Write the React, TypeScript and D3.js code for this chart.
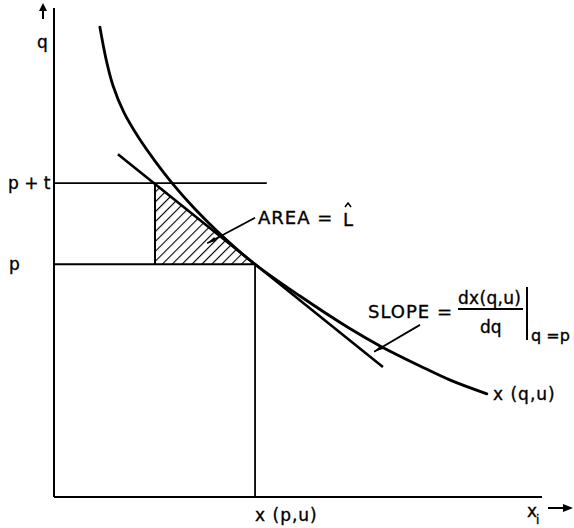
import React from 'react';
import * as d3 from 'd3';

// x(q,u) compensated demand curve (x_i, q)
const curveX = [9.4, 10.7, 12.1, 14.3, 17.4, 20.7, 24.2, 28.7, 33.4, 40.8, 50.4, 60.7, 66.8, 75.0, 81.2, 88.7];
const curveQ = [96.1, 89.4, 84.1, 78.7, 73.4, 68.7, 64.2, 59.1, 54.4, 47.9, 41.1, 34.4, 30.9, 26.8, 23.9, 21.1];

// tangent at q = p
const tangentX = [13.1, 67.4];
const tangentQ = [70.1, 26.6];

const p = 47.6;
const pPlusT = 64.2;
const xAtP = 41.2;       // x(p,u)
const xAtPT = 20.7;      // where the tangent meets p + t
const ptLineEnd = 43.6;

// leader lines [from, to] in data units
const areaLeader = [[41.2, 57.1], [31.4, 51.9]];
const slopeLeader = [[75.0, 35.2], [65.6, 29.7]];

const W = 574;
const H = 528;
const font = '"DejaVu Sans", sans-serif';

export default function App() {
  const x = d3.scaleLinear().domain([0, 100]).range([54, 542]);
  const y = d3.scaleLinear().domain([0, 100]).range([497, 8]);

  const pts = curveX.map((v, i) => [v, curveQ[i]] as [number, number]);
  const line = d3.line<[number, number]>()
    .x(d => x(d[0]))
    .y(d => y(d[1]))
    .curve(d3.curveCatmullRom.alpha(0.5));

  const tri = d3.line<[number, number]>().x(d => x(d[0])).y(d => y(d[1]));
  const triPts: [number, number][] = [[xAtPT, pPlusT], [xAtPT, p], [xAtP, p]];

  // small wedge at the end of a leader line
  const blob = (from: number[], to: number[], size: number) => {
    const x0 = x(from[0]), y0 = y(from[1]), x1 = x(to[0]), y1 = y(to[1]);
    const a = Math.atan2(y1 - y0, x1 - x0);
    const bx = x1 - Math.cos(a) * size, by = y1 - Math.sin(a) * size;
    const nx = -Math.sin(a) * 2.2, ny = Math.cos(a) * 2.2;
    return `M${x1},${y1}L${bx + nx},${by + ny}L${bx - nx},${by - ny}Z`;
  };

  const areaX = x(areaLeader[0][0]) + 3;
  const hatX = areaX + 90;

  return (
    <svg width={W} height={H} style={{ position: 'absolute', left: 0, top: 0, background: '#fff' }}>
      <defs>
        <pattern id="hatch" patternUnits="userSpaceOnUse" width="7" height="7" patternTransform="rotate(45)">
          <line x1="0" y1="0" x2="0" y2="7" stroke="#000" strokeWidth="2.2" />
        </pattern>
      </defs>

      {/* hatched triangle */}
      <path d={tri(triPts) + 'Z'} fill="url(#hatch)" stroke="none" />

      {/* axes */}
      <line x1={x(0)} y1={y(0)} x2={x(0)} y2={y(100)} stroke="#000" strokeWidth={2} />
      <line x1={x(0)} y1={y(0)} x2={x(100)} y2={y(0)} stroke="#000" strokeWidth={2} />

      {/* price lines */}
      <line x1={x(0)} y1={y(pPlusT)} x2={x(ptLineEnd)} y2={y(pPlusT)} stroke="#000" strokeWidth={1.8} />
      <line x1={x(0)} y1={y(p)} x2={x(xAtP)} y2={y(p)} stroke="#000" strokeWidth={1.8} />
      <line x1={x(xAtP)} y1={y(p)} x2={x(xAtP)} y2={y(0)} stroke="#000" strokeWidth={1.8} />
      <line x1={x(xAtPT)} y1={y(pPlusT)} x2={x(xAtPT)} y2={y(p)} stroke="#000" strokeWidth={2} />

      {/* tangent and curve */}
      <line x1={x(tangentX[0])} y1={y(tangentQ[0])} x2={x(tangentX[1])} y2={y(tangentQ[1])}
        stroke="#000" strokeWidth={2.6} />
      <path d={line(pts) || ''} fill="none" stroke="#000" strokeWidth={2.8} strokeLinecap="round" />

      {/* leaders */}
      <line x1={x(areaLeader[0][0])} y1={y(areaLeader[0][1])} x2={x(areaLeader[1][0])} y2={y(areaLeader[1][1])}
        stroke="#000" strokeWidth={1.8} />
      <path d={blob(areaLeader[0], areaLeader[1], 9)} fill="#000" />
      <line x1={x(slopeLeader[0][0])} y1={y(slopeLeader[0][1])} x2={x(slopeLeader[1][0])} y2={y(slopeLeader[1][1])}
        stroke="#000" strokeWidth={1.8} />
      <path d={blob(slopeLeader[0], slopeLeader[1], 9)} fill="#000" />

      {/* axis arrows */}
      <line x1={43} y1={19} x2={43} y2={8} stroke="#000" strokeWidth={2} />
      <path d="M43,3L39,11L47,11Z" fill="#000" />
      <line x1={548} y1={508} x2={566} y2={508} stroke="#000" strokeWidth={2} />
      <path d="M573,508L563,504L563,512Z" fill="#000" />

      {/* hat over L */}
      <path d={`M${hatX - 3},${207}L${hatX},${203}L${hatX + 3},${207}`} fill="none" stroke="#000" strokeWidth={1.5} />

      <g fontFamily={font} fill="#000" stroke="#000" strokeWidth={0.35}>
        <text x={37} y={48} fontSize={17}>q</text>
        <text x={8} y={y(pPlusT) + 6} fontSize={17}>p + t</text>
        <text x={9} y={y(p) + 6} fontSize={17}>p</text>

        <text x={areaX} y={224} fontSize={18} letterSpacing={1}>AREA =</text>
        <text x={areaX + 85} y={226} fontSize={18}>L</text>

        <text x={368} y={318} fontSize={18} letterSpacing={1}>SLOPE =</text>
        <text x={458} y={304} fontSize={17} letterSpacing={0.3}>dx(q,u)</text>
        <text x={480} y={333} fontSize={17}>dq</text>
        <text x={531} y={341} fontSize={16}>q =p</text>

        <text x={493} y={400} fontSize={17} letterSpacing={1}>x (q,u)</text>
        <text x={x(xAtP)} y={521} fontSize={17} letterSpacing={1}>x (p,u)</text>
        <text x={527} y={517} fontSize={17}>x</text>
        <text x={536} y={524} fontSize={12}>i</text>
      </g>
      <line x1={458} y1={309} x2={523} y2={309} stroke="#000" strokeWidth={1.8} />
      <line x1={527} y1={287} x2={527} y2={340} stroke="#000" strokeWidth={2} />
    </svg>
  );
}
